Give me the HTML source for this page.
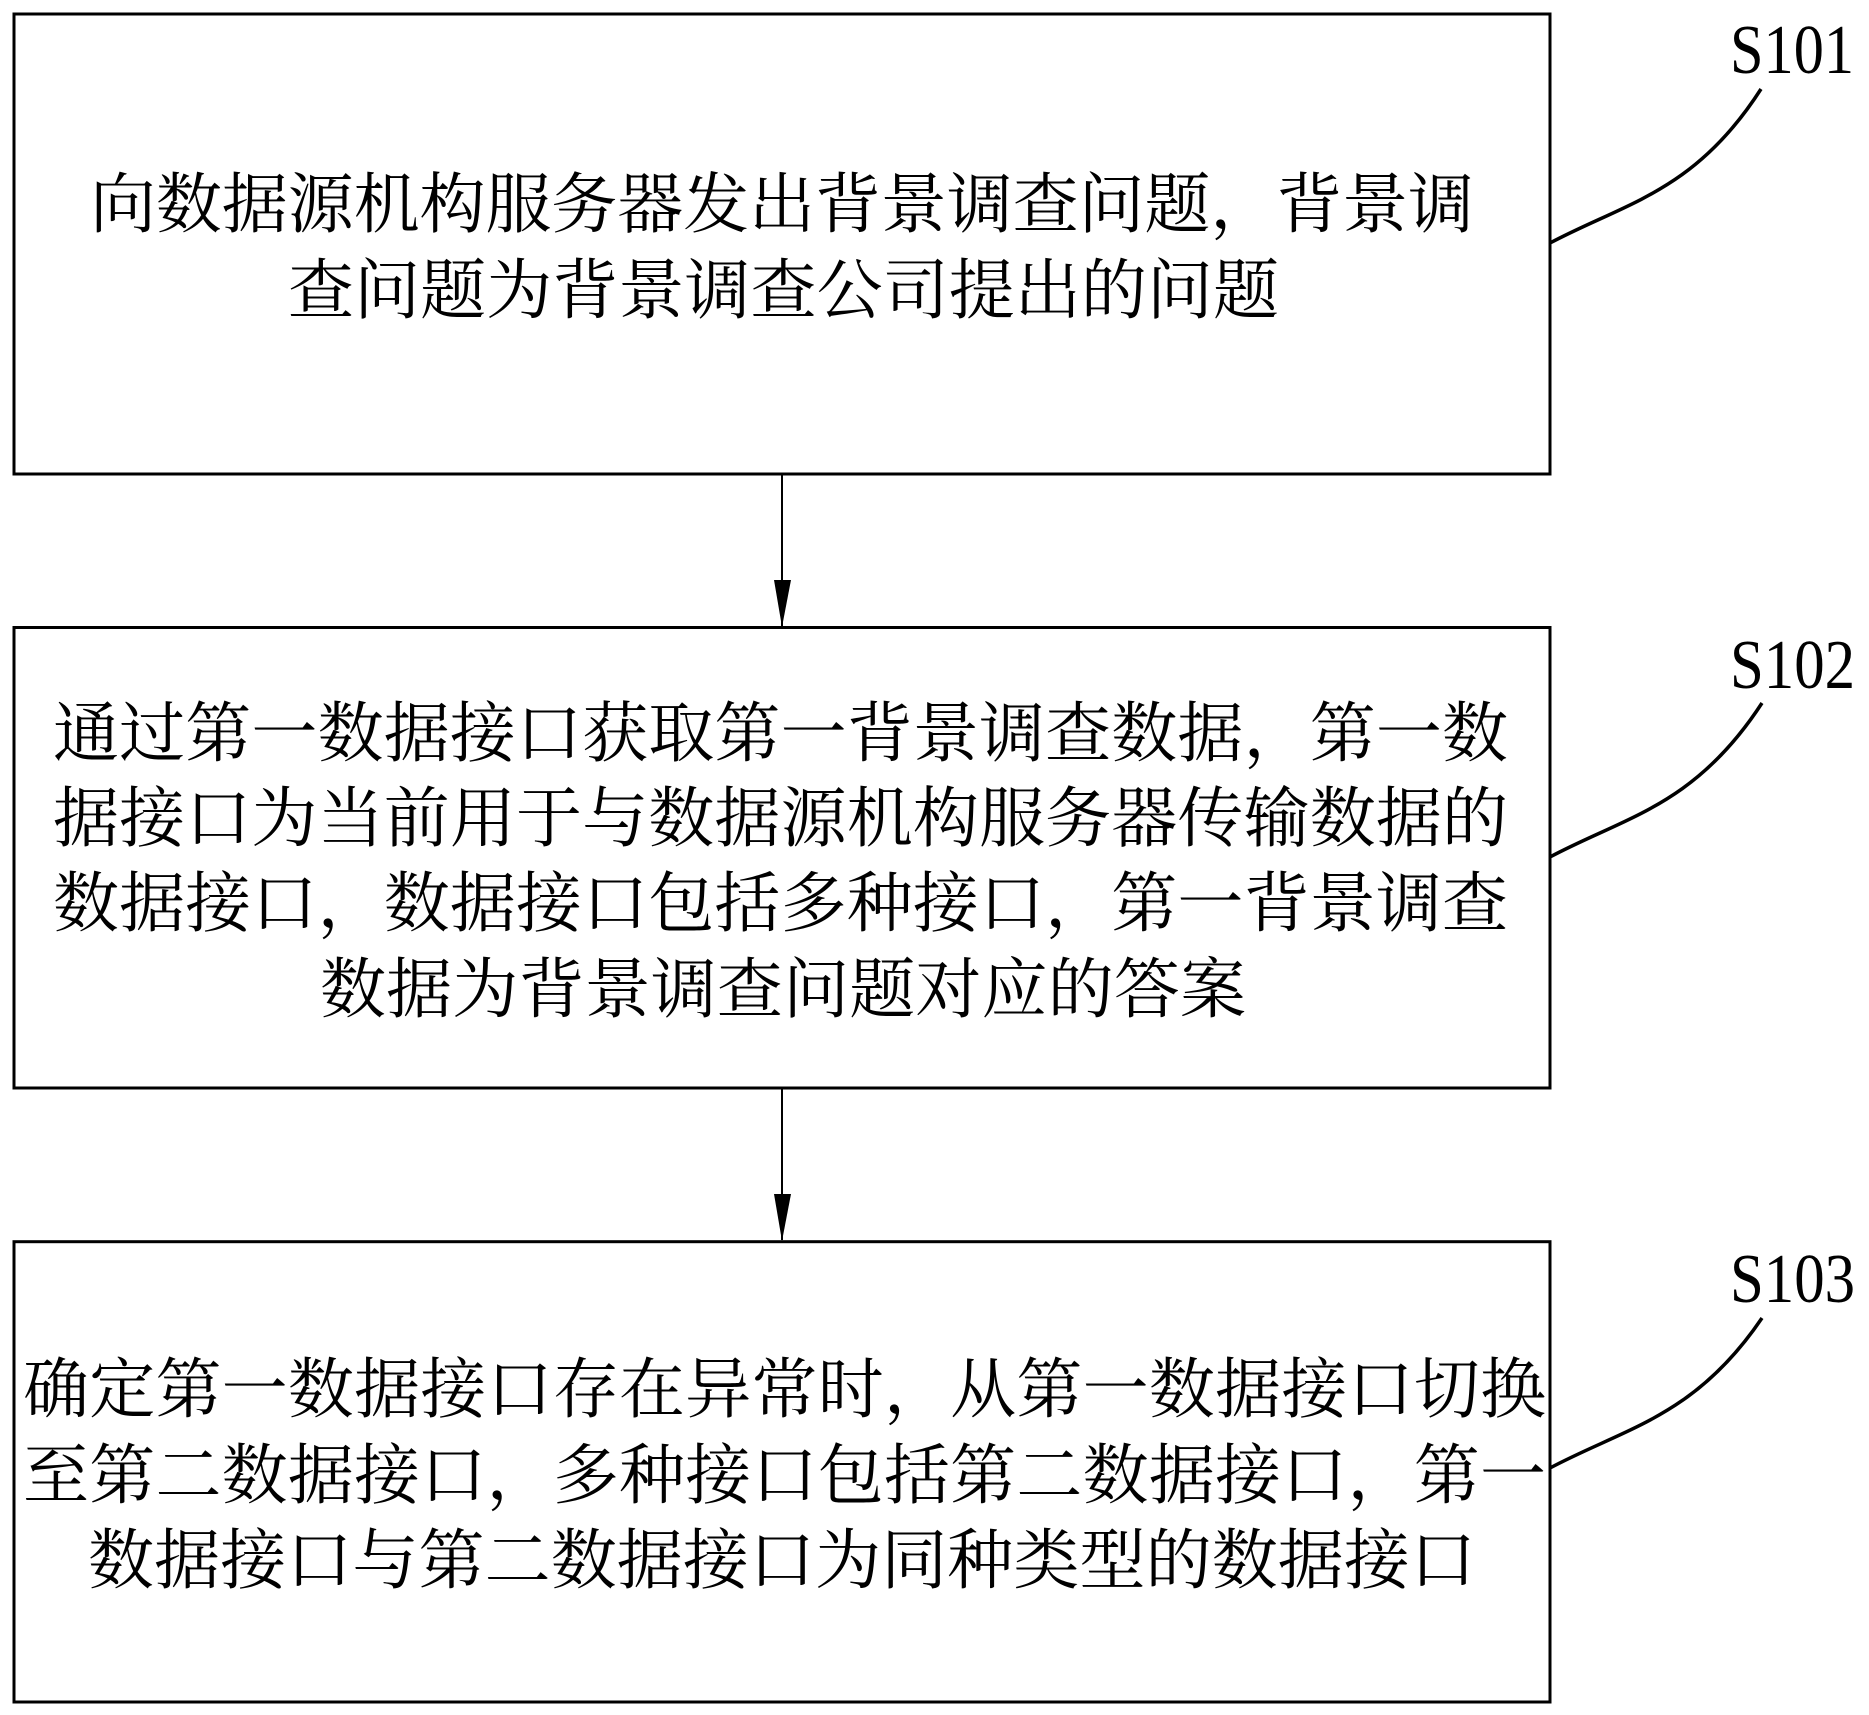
<!DOCTYPE html>
<html>
<head>
<meta charset="utf-8">
<style>
  html, body { margin: 0; padding: 0; background: #fff; }
  body { width: 1869px; height: 1715px; overflow: hidden; }
  svg { display: block; }
  .t { font-family: "Liberation Serif", "Noto Serif CJK SC", "Noto Sans CJK SC", serif; font-size: 66px; fill: #000; }
  .s { font-family: "Liberation Serif", serif; font-size: 70px; fill: #000; }
</style>
</head>
<body>
<svg width="1869" height="1715" viewBox="0 0 1869 1715" xmlns="http://www.w3.org/2000/svg">
  <rect x="0" y="0" width="1869" height="1715" fill="#fff"/>

  <!-- Boxes -->
  <rect x="14" y="14" width="1536" height="460" fill="none" stroke="#000" stroke-width="3"/>
  <rect x="14" y="627.5" width="1536" height="460.5" fill="none" stroke="#000" stroke-width="3"/>
  <rect x="14" y="1241.7" width="1536" height="460.3" fill="none" stroke="#000" stroke-width="3"/>

  <!-- Connectors -->
  <line x1="782" y1="475" x2="782" y2="626" stroke="#000" stroke-width="2"/>
  <polygon points="774,580 791,580 782,627" fill="#000"/>
  <line x1="782" y1="1089" x2="782" y2="1240" stroke="#000" stroke-width="2"/>
  <polygon points="774,1194 791,1194 782,1241" fill="#000"/>

  <!-- Leader curves -->
  <path d="M1550,243 C1625,203 1695,192 1761,89" fill="none" stroke="#000" stroke-width="3.5"/>
  <path d="M1550,857 C1625,817 1695,806 1762,703" fill="none" stroke="#000" stroke-width="3.5"/>
  <path d="M1550,1468 C1625,1428 1695,1417 1762,1318" fill="none" stroke="#000" stroke-width="3.5"/>

  <!-- Step labels -->
  <text class="s" x="1730" y="73" textLength="124" lengthAdjust="spacingAndGlyphs">S101</text>
  <text class="s" x="1730" y="688" textLength="125" lengthAdjust="spacingAndGlyphs">S102</text>
  <text class="s" x="1730" y="1302" textLength="125" lengthAdjust="spacingAndGlyphs">S103</text>

  <!-- Box 1 text -->
  <text class="t" x="90" y="227" textLength="1384" lengthAdjust="spacing">向数据源机构服务器发出背景调查问题，背景调</text>
  <text class="t" x="288" y="313" textLength="991" lengthAdjust="spacing">查问题为背景调查公司提出的问题</text>

  <!-- Box 2 text -->
  <text class="t" x="53" y="756" textLength="1455" lengthAdjust="spacing">通过第一数据接口获取第一背景调查数据，第一数</text>
  <text class="t" x="53" y="841" textLength="1455" lengthAdjust="spacing">据接口为当前用于与数据源机构服务器传输数据的</text>
  <text class="t" x="53" y="926" textLength="1455" lengthAdjust="spacing">数据接口，数据接口包括多种接口，第一背景调查</text>
  <text class="t" x="320" y="1012" textLength="926" lengthAdjust="spacing">数据为背景调查问题对应的答案</text>

  <!-- Box 3 text -->
  <text class="t" x="23" y="1412" textLength="1523" lengthAdjust="spacing">确定第一数据接口存在异常时，从第一数据接口切换</text>
  <text class="t" x="23" y="1498" textLength="1523" lengthAdjust="spacing">至第二数据接口，多种接口包括第二数据接口，第一</text>
  <text class="t" x="88" y="1583" textLength="1388" lengthAdjust="spacing">数据接口与第二数据接口为同种类型的数据接口</text>
</svg>
</body>
</html>
